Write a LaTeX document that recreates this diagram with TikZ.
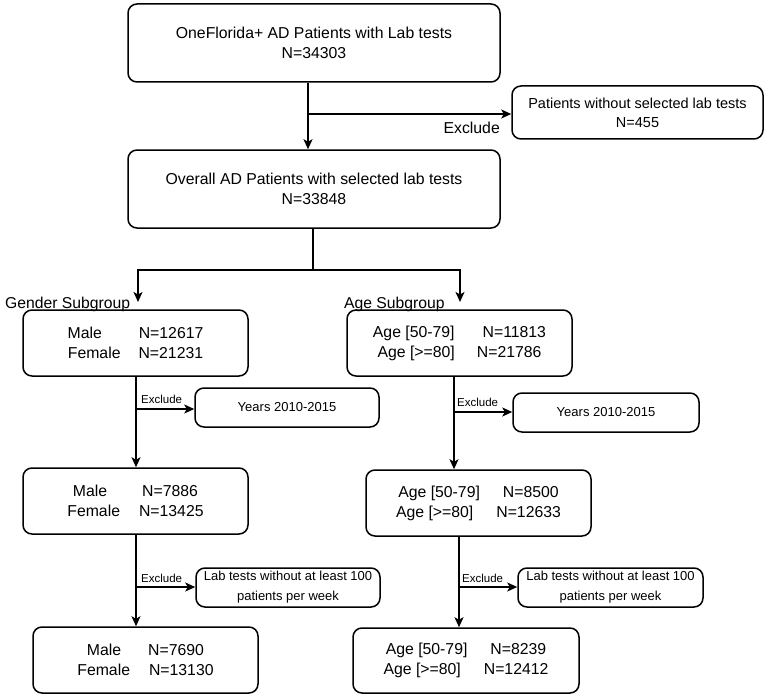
\documentclass[tikz,border=0pt]{standalone}
\usepackage{fontspec}
\setmainfont{Liberation Sans}
\usetikzlibrary{arrows.meta}
\begin{document}
\begin{tikzpicture}[x=1pt,y=-1pt,
  box/.style={draw, rounded corners=9pt, line width=1.5pt, align=center, inner sep=0pt},
  ln/.style={line width=1.5pt},
  arr/.style={line width=1.5pt, -{Stealth[length=10pt,width=9pt,inset=2.5pt]}},
  big/.style={font=\fontsize{15.8}{20}\selectfont},
  mid/.style={font=\fontsize{14.5}{19}\selectfont},
  sml/.style={font=\fontsize{13}{20}\selectfont},
  tiny/.style={font=\fontsize{11.5}{14}\selectfont, inner sep=0pt},
  lab/.style={font=\fontsize{15.7}{20}\selectfont, inner sep=0pt}]
\useasboundingbox (0,0) rectangle (768,698);

% boxes
\node[box, big, minimum width=372pt, minimum height=78pt] (top) at (314,43)
  {OneFlorida+ AD Patients with Lab tests\\N=34303};
\node[box, mid, minimum width=251pt, minimum height=53pt] (ex1) at (637.5,112.5)
  {Patients without selected lab tests\\N=455};
\node[box, big, minimum width=372pt, minimum height=78pt] (ov) at (314,189)
  {Overall AD Patients with selected lab tests\\N=33848};

\node[box, big, minimum width=225pt, minimum height=66pt] (g1) at (135.5,343)
  {Male\hspace{37pt}N=12617\\Female\hspace{18pt}N=21231};
\node[box, big, minimum width=225pt, minimum height=66pt] (a1) at (459.5,343)
  {Age [50-79]\hspace{28pt}N=11813\\Age [>=80]\hspace{22pt}N=21786};

\node[box, sml, minimum width=184pt, minimum height=39pt] (y1) at (287,407.5) {Years 2010-2015};
\node[box, sml, minimum width=186pt, minimum height=39pt] (y2) at (606,412.5) {Years 2010-2015};

\node[box, big, minimum width=225pt, minimum height=66pt] (g2) at (135.5,501)
  {Male\hspace{35pt}N=7886\\Female\hspace{19pt}N=13425};
\node[box, big, minimum width=225pt, minimum height=66pt] (a2) at (478.5,503)
  {Age [50-79]\hspace{23pt}N=8500\\Age [>=80]\hspace{23pt}N=12633};

\node[box, sml, minimum width=184pt, minimum height=39pt] (l1) at (288,587.5)
  {Lab tests without at least 100\\patients per week};
\node[box, sml, minimum width=185pt, minimum height=39pt] (l2) at (610.5,587.5)
  {Lab tests without at least 100\\patients per week};

\node[box, big, minimum width=225pt, minimum height=66pt] (g3) at (145.5,660)
  {Male\hspace{27pt}N=7690\\Female\hspace{19pt}N=13130};
\node[box, big, minimum width=226pt, minimum height=65pt] (a3) at (466,660.5)
  {Age [50-79]\hspace{23pt}N=8239\\Age [>=80]\hspace{23pt}N=12412};

% labels
\node[big, inner sep=0pt, anchor=base east] (exl) at (500,134) {Exclude};
\node[lab, anchor=base west] (gsub) at (5,308) {Gender Subgroup};
\node[lab, anchor=base west] (asub) at (344,308) {Age Subgroup};
\node[tiny, anchor=base west] (e1) at (141,403) {Exclude};
\node[tiny, anchor=base west] (e2) at (457,406) {Exclude};
\node[tiny, anchor=base west] (e3) at (141,582) {Exclude};
\node[tiny, anchor=base west] (e4) at (462,582) {Exclude};

% connectors: top part
\coordinate (xt) at (308,0);
\coordinate (b1) at (308,114);
\draw[arr] (top.south -| xt) -- (ov.north -| xt);
\draw[arr] (b1) -- (ex1.west |- b1);

\coordinate (xs) at (313,0);
\coordinate (sp) at (313,270);
\coordinate (gt) at (138,302);
\coordinate (at) at (460,302);
\draw[ln] (ov.south -| xs) -- (sp);
\draw[arr] (sp) -| (gt);
\draw[arr] (sp) -| (at);

% gender column
\coordinate (gx) at (136,0);
\coordinate (gb1) at (136,409);
\coordinate (gb2) at (136,587);
\draw[arr] (g1.south -| gx) -- (g2.north -| gx);
\draw[arr] (gb1) -- (y1.west |- gb1);
\draw[arr] (g2.south -| gx) -- (g3.north -| gx);
\draw[arr] (gb2) -- (l1.west |- gb2);

% age column
\coordinate (ax1) at (454,0);
\coordinate (ab1) at (454,412);
\coordinate (ax2) at (459,0);
\coordinate (ab2) at (459,587);
\draw[arr] (a1.south -| ax1) -- (a2.north -| ax1);
\draw[arr] (ab1) -- (y2.west |- ab1);
\draw[arr] (a2.south -| ax2) -- (a3.north -| ax2);
\draw[arr] (ab2) -- (l2.west |- ab2);
\end{tikzpicture}
\end{document}
